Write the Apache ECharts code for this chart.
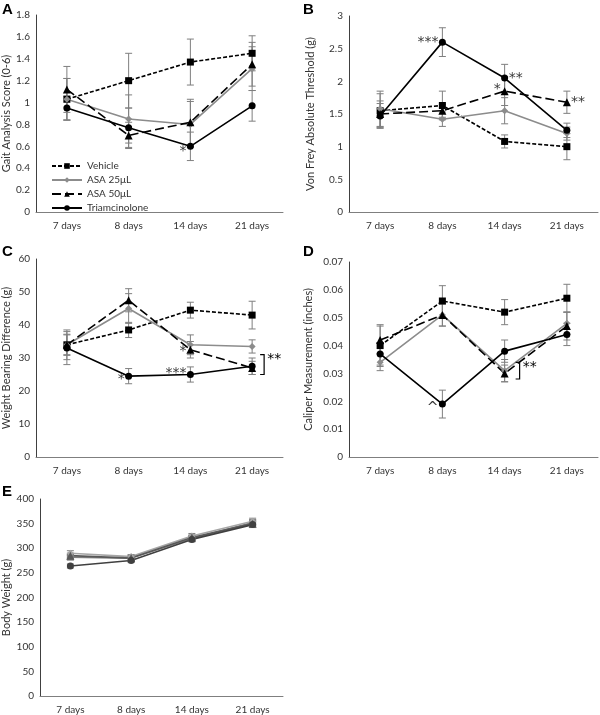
<!DOCTYPE html>
<html>
<head>
<meta charset="utf-8">
<script src="https://cdn.jsdelivr.net/npm/echarts@6/dist/echarts.min.js"></script>
<style>
  html, body { margin: 0; padding: 0; background: #fff; }
  #main { width: 600px; height: 715px; }
</style>
</head>
<body>
<div id="main"></div>
<script>
// 数据
const days = ['7 days', '8 days', '14 days', '21 days'];
const groups = ['Vehicle', 'ASA 25μL', 'ASA 50μL', 'Triamcinolone'];

// A: gait score
const gaitMean = [
  [1.03, 1.20, 1.37, 1.45],
  [1.03, 0.85, 0.80, 1.31],
  [1.12, 0.70, 0.82, 1.35],
  [0.95, 0.77, 0.60, 0.97]
];
const gaitErr = [
  [0.19, 0.25, 0.21, 0.16],
  [0.19, 0.22, 0.21, 0.20],
  [0.21, 0.12, 0.21, 0.20],
  [0.11, 0.18, 0.13, 0.14]
];
// B: von frey
const vfMean = [
  [1.55, 1.63, 1.08, 1.00],
  [1.58, 1.42, 1.55, 1.20],
  [1.50, 1.55, 1.85, 1.68],
  [1.47, 2.60, 2.05, 1.25]
];
const vfErr = [
  [0.26, 0.22, 0.10, 0.20],
  [0.27, 0.11, 0.20, 0.10],
  [0.20, 0.10, 0.22, 0.17],
  [0.19, 0.22, 0.21, 0.11]
];
// C: weight bearing
const wbMean = [
  [34.0, 38.5, 44.5, 43.0],
  [34.0, 45.0, 34.0, 33.5],
  [34.0, 47.5, 32.5, 27.0],
  [33.0, 24.5, 25.0, 27.5]
];
const wbErr = [
  [4.5, 2.3, 2.4, 4.2],
  [3.0, 4.5, 3.0, 2.0],
  [3.2, 3.5, 2.5, 2.0],
  [5.0, 2.3, 2.3, 2.5]
];
// D: caliper
const calMean = [
  [0.040, 0.056, 0.052, 0.057],
  [0.034, 0.051, 0.031, 0.048],
  [0.042, 0.051, 0.030, 0.047],
  [0.037, 0.019, 0.038, 0.044]
];
const calErr = [
  [0.0075, 0.0055, 0.0045, 0.005],
  [0.003, 0.004, 0.004, 0.004],
  [0.005, 0.004, 0.003, 0.005],
  [0.004, 0.005, 0.004, 0.004]
];
// E: body weight
const bwMean = [
  [282, 280, 320, 352],
  [290, 283, 325, 355],
  [285, 280, 322, 350],
  [264, 275, 318, 348]
];
const bwErr = [
  [5, 4, 5, 6],
  [5, 4, 5, 6],
  [5, 4, 5, 6],
  [4, 4, 5, 6]
];

// 标注 [category index, value, text, side]
const noteA = [[2, 0.55, '*', 'left']];
const noteB = [[1, 2.6, '***', 'left'], [2, 2.05, '**', 'right'], [2, 1.88, '*', 'left'], [3, 1.68, '**', 'right']];
const noteC = [[1, 23.5, '*', 'left'], [2, 25.3, '***', 'left'], [2, 32.0, '*', 'left']];
const noteD = [[1, 0.0175, '^', 'left']];
const bracketC = [[3, 25.0, 31.0, '**']];
const bracketD = [[2, 0.028, 0.034, '**']];

const FONT = 'Lato';
const symbols = ['rect', 'diamond', 'triangle', 'circle'];
const symbolSizes = [7, 7, 8, 7];
const colors = ['#000', '#8c8c8c', '#000', '#000'];
const dashes = [[4, 2], 'solid', [9, 4], 'solid'];
const bwColors = ['#7f7f7f', '#a6a6a6', '#595959', '#404040'];

const chart = echarts.init(document.getElementById('main'));

const grids = [
  {left: 36, top: 15, width: 247, height: 197},
  {left: 349, top: 16, width: 249, height: 196},
  {left: 36, top: 259, width: 247, height: 198},
  {left: 349, top: 262, width: 249, height: 195},
  {left: 36, top: 499, width: 247, height: 198}
];
const yCfg = [
  {max: 1.8, interval: 0.2, name: 'Gait Analysis Score (0-6)', gap: 24},
  {max: 3, interval: 0.5, name: 'Von Frey Absolute Threshold (g)', gap: 33},
  {max: 60, interval: 10, name: 'Weight Bearing Difference (g)', gap: 24},
  {max: 0.07, interval: 0.01, name: 'Caliper Measurement (inches)', gap: 35},
  {max: 400, interval: 50, name: 'Body Weight (g)', gap: 28}
];

const xAxes = grids.map(function (g, i) {
  return {
    type: 'category', gridIndex: i, data: days,
    axisTick: {show: false},
    axisLine: {lineStyle: {color: '#7f7f7f', width: 1}},
    axisLabel: {color: '#333', fontFamily: FONT, fontSize: 10, margin: 9}
  };
});
const yAxes = yCfg.map(function (c, i) {
  return {
    type: 'value', gridIndex: i, min: 0, max: c.max, interval: c.interval,
    name: c.name, nameLocation: 'middle', nameGap: c.gap,
    nameTextStyle: {color: '#333', fontFamily: FONT, fontSize: 11},
    splitLine: {show: false},
    axisTick: {show: false},
    axisLine: {show: true, lineStyle: {color: '#404040', width: 1}},
    axisLabel: {color: '#333', fontFamily: FONT, fontSize: 10, margin: 6}
  };
});

function errorBarSeries(idx, means, errs) {
  const data = [];
  means.forEach(function (row, g) {
    row.forEach(function (v, k) {
      data.push([k, v - errs[g][k], v + errs[g][k]]);
    });
  });
  return {
    type: 'custom', xAxisIndex: idx, yAxisIndex: idx, z: 1, silent: true,
    renderItem: function (params, api) {
      const lo = api.coord([api.value(0), api.value(1)]);
      const hi = api.coord([api.value(0), api.value(2)]);
      const w = 3.5;
      const style = {stroke: '#7f7f7f', lineWidth: 1};
      return {
        type: 'group',
        children: [
          {type: 'line', shape: {x1: hi[0], y1: hi[1], x2: lo[0], y2: lo[1]}, style: style},
          {type: 'line', shape: {x1: hi[0] - w, y1: hi[1], x2: hi[0] + w, y2: hi[1]}, style: style},
          {type: 'line', shape: {x1: lo[0] - w, y1: lo[1], x2: lo[0] + w, y2: lo[1]}, style: style}
        ]
      };
    },
    data: data
  };
}

function lineSeries(idx, means, grey) {
  return means.map(function (row, g) {
    const c = grey ? bwColors[g] : colors[g];
    return {
      name: groups[g], type: 'line', xAxisIndex: idx, yAxisIndex: idx, z: 3,
      data: row, symbol: symbols[g], symbolSize: symbolSizes[g],
      showSymbol: true,
      lineStyle: {color: c, width: 1.6, type: grey ? 'solid' : dashes[g]},
      itemStyle: {color: c},
      emphasis: {disabled: true}
    };
  });
}

function noteSeries(idx, notes) {
  return {
    type: 'scatter', xAxisIndex: idx, yAxisIndex: idx, symbolSize: 0, z: 4, silent: true,
    labelLayout: {hideOverlap: false},
    data: notes.map(function (n) {
      return {
        value: [n[0], n[1]],
        label: {
          show: true, formatter: n[2], position: n[3] || 'bottom', distance: 4,
          color: '#000', fontFamily: 'DejaVu Sans', fontSize: 14
        }
      };
    })
  };
}

function bracketSeries(idx, items, dx) {
  return {
    type: 'custom', xAxisIndex: idx, yAxisIndex: idx, z: 4, silent: true,
    renderItem: function (params, api) {
      const lo = api.coord([api.value(0), api.value(1)]);
      const hi = api.coord([api.value(0), api.value(2)]);
      const x = lo[0] + dx;
      return {
        type: 'group',
        children: [
          {type: 'polyline', shape: {points: [[x - 4, hi[1]], [x, hi[1]], [x, lo[1]], [x - 4, lo[1]]]},
            style: {stroke: '#000', lineWidth: 1.2, fill: null}},
          {type: 'text', x: x + 3, y: hi[1] - 2,
            style: {text: items[params.dataIndex][3], fill: '#000', font: '14px DejaVu Sans'}}
        ]
      };
    },
    data: items.map(function (b) { return [b[0], b[1], b[2]]; })
  };
}

const series = [].concat(
  errorBarSeries(0, gaitMean, gaitErr), lineSeries(0, gaitMean), noteSeries(0, noteA),
  errorBarSeries(1, vfMean, vfErr), lineSeries(1, vfMean), noteSeries(1, noteB),
  errorBarSeries(2, wbMean, wbErr), lineSeries(2, wbMean), noteSeries(2, noteC), bracketSeries(2, bracketC, 12),
  errorBarSeries(3, calMean, calErr), lineSeries(3, calMean), noteSeries(3, noteD), bracketSeries(3, bracketD, 15),
  errorBarSeries(4, bwMean, bwErr), lineSeries(4, bwMean, true)
);

const panelLetters = ['A', 'B', 'C', 'D', 'E'];
const letterPos = [[2, 2], [303, 2], [2, 244], [303, 244], [2, 484]];

const option = {
  animation: false,
  backgroundColor: '#fff',
  grid: grids,
  xAxis: xAxes,
  yAxis: yAxes,
  legend: {
    data: groups, orient: 'vertical', left: 46, top: 156,
    itemWidth: 30, itemHeight: 7, itemGap: 4, selectedMode: false,
    textStyle: {color: '#333', fontFamily: FONT, fontSize: 10}
  },
  graphic: panelLetters.map(function (t, i) {
    return {type: 'text', left: letterPos[i][0], top: letterPos[i][1],
      style: {text: t, fill: '#000', font: 'bold 15px Liberation Sans'}};
  }),
  series: series
};

chart.setOption(option);
</script>
</body>
</html>
